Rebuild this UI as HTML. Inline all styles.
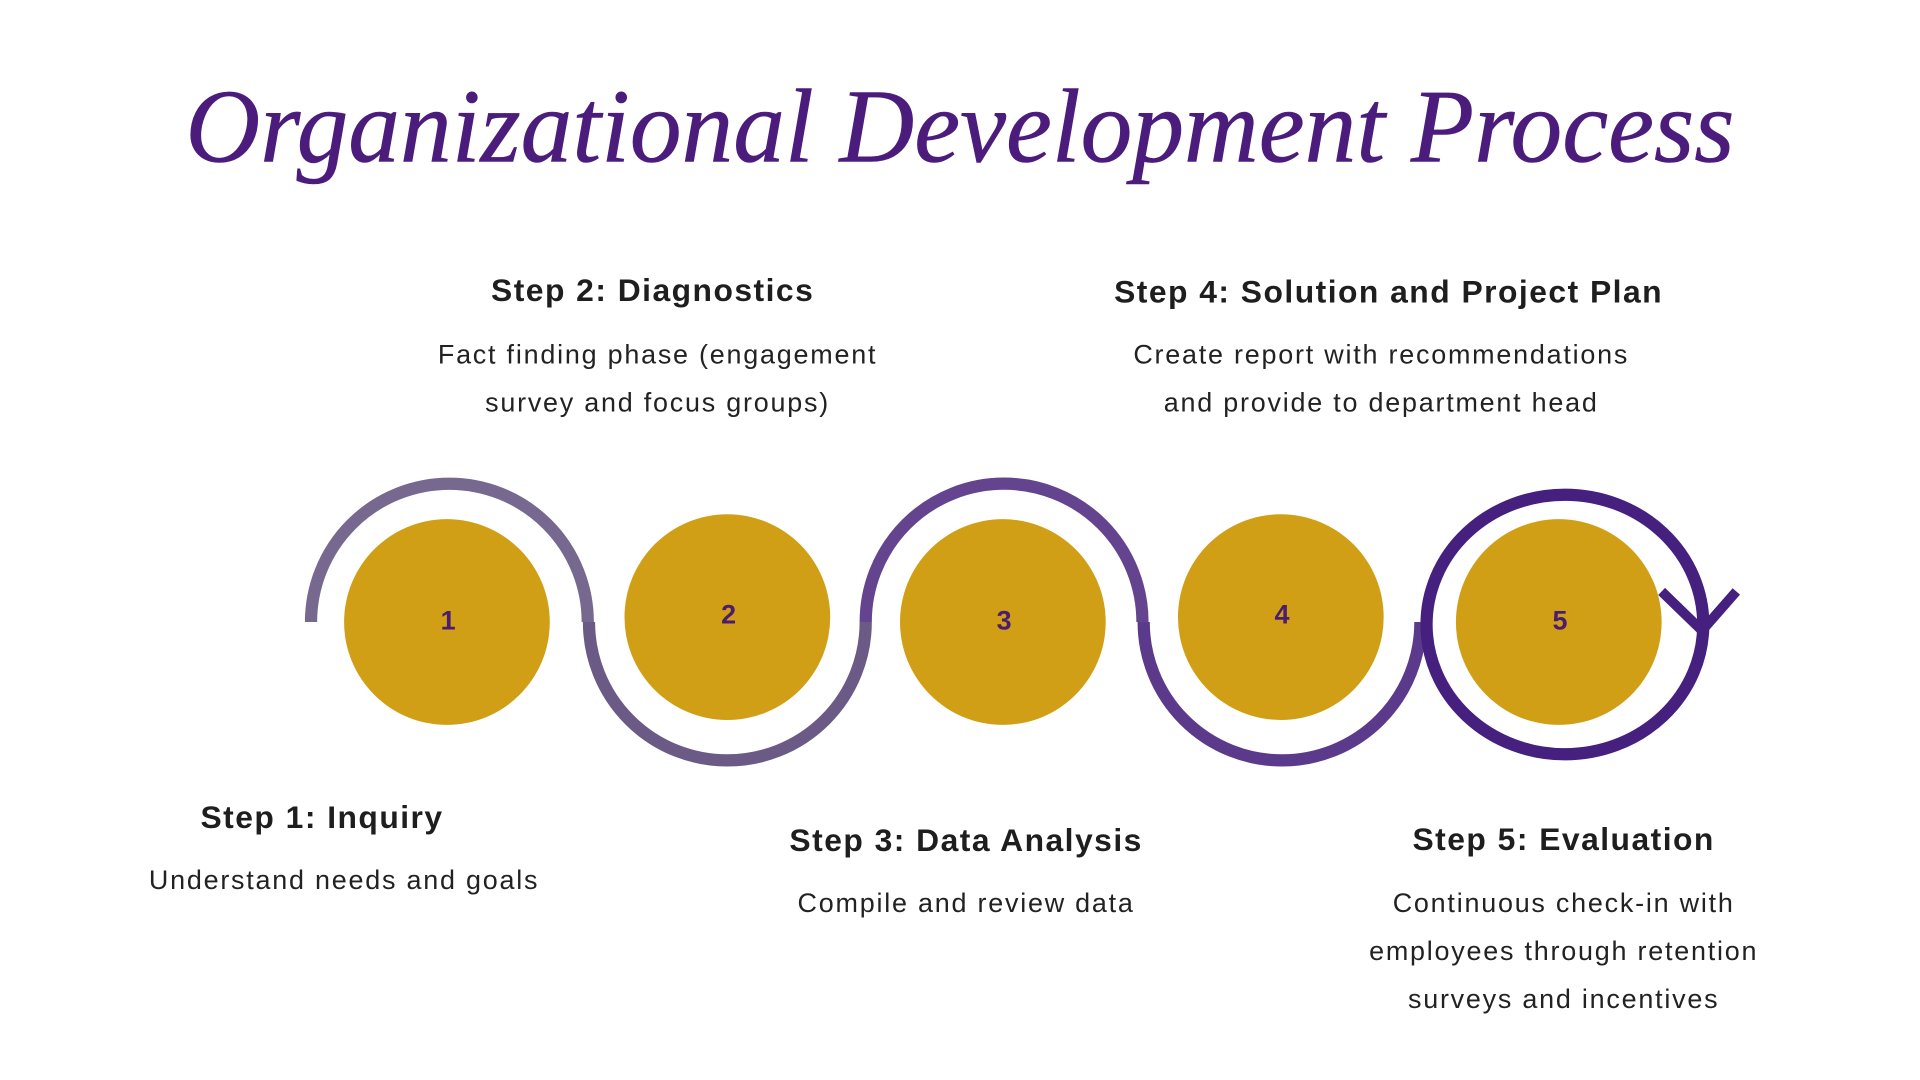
<!DOCTYPE html>
<html><head><meta charset="utf-8"><style>
html,body{margin:0;padding:0;background:#fff;width:1920px;height:1080px;overflow:hidden}
svg{display:block}
.h{font-family:"Liberation Sans",sans-serif;font-weight:bold;font-size:26px;fill:#1e1e1e;letter-spacing:1.2px}
.b{font-family:"Liberation Sans",sans-serif;font-size:22px;fill:#222;letter-spacing:1.45px}
.n{font-family:"Liberation Sans",sans-serif;font-weight:bold;font-size:22px;fill:#4a1d6e}
</style></head><body>
<svg width="1920" height="1080" viewBox="0 0 1568 882" xmlns="http://www.w3.org/2000/svg">
<text x="784" y="132" text-anchor="middle" font-family="Liberation Serif, serif" font-style="italic" font-size="86" fill="#4b1c7c" stroke="#4b1c7c" stroke-width="0.5" textLength="1265" lengthAdjust="spacingAndGlyphs">Organizational Development Process</text>

<g fill="none" stroke-width="10">
<path d="M254 508 A113 113 0 0 1 480 508" stroke="#76688f"/>
<path d="M481 508 A113 113 0 0 0 707 508" stroke="#6a5a85"/>
<path d="M707 508 A113 113 0 0 1 933 508" stroke="#64438f"/>
<path d="M934 508 A113 113 0 0 0 1160 508" stroke="#5b3a8c"/>
<ellipse cx="1278" cy="510" rx="113" ry="106" stroke="#45207f"/>
<path d="M1357 483 L1390 515 L1418 483" stroke="#45207f" stroke-width="8"/>
</g>

<g fill="#d19f16">
<circle cx="365" cy="508" r="84"/>
<circle cx="594" cy="504" r="84"/>
<circle cx="819" cy="508" r="84"/>
<circle cx="1046" cy="504" r="84"/>
<circle cx="1273" cy="508" r="84"/>
</g>
<text class="n" x="366" y="514" text-anchor="middle">1</text>
<text class="n" x="595" y="509" text-anchor="middle">2</text>
<text class="n" x="820" y="514" text-anchor="middle">3</text>
<text class="n" x="1047" y="509" text-anchor="middle">4</text>
<text class="n" x="1274" y="514" text-anchor="middle">5</text>

<text class="h" x="533" y="246" text-anchor="middle">Step 2: Diagnostics</text>
<text class="b" x="537" y="297" text-anchor="middle">Fact finding phase (engagement</text>
<text class="b" x="537" y="336" text-anchor="middle">survey and focus groups)</text>

<text class="h" x="1134" y="247" text-anchor="middle">Step 4: Solution and Project Plan</text>
<text class="b" x="1128" y="297" text-anchor="middle">Create report with recommendations</text>
<text class="b" x="1128" y="336" text-anchor="middle">and provide to department head</text>

<text class="h" x="263" y="676" text-anchor="middle">Step 1: Inquiry</text>
<text class="b" x="281" y="726" text-anchor="middle">Understand needs and goals</text>

<text class="h" x="789" y="695" text-anchor="middle">Step 3: Data Analysis</text>
<text class="b" x="789" y="745" text-anchor="middle">Compile and review data</text>

<text class="h" x="1277" y="694" text-anchor="middle">Step 5: Evaluation</text>
<text class="b" x="1277" y="745" text-anchor="middle">Continuous check-in with</text>
<text class="b" x="1277" y="784" text-anchor="middle">employees through retention</text>
<text class="b" x="1277" y="823" text-anchor="middle">surveys and incentives</text>
</svg>
</body></html>
